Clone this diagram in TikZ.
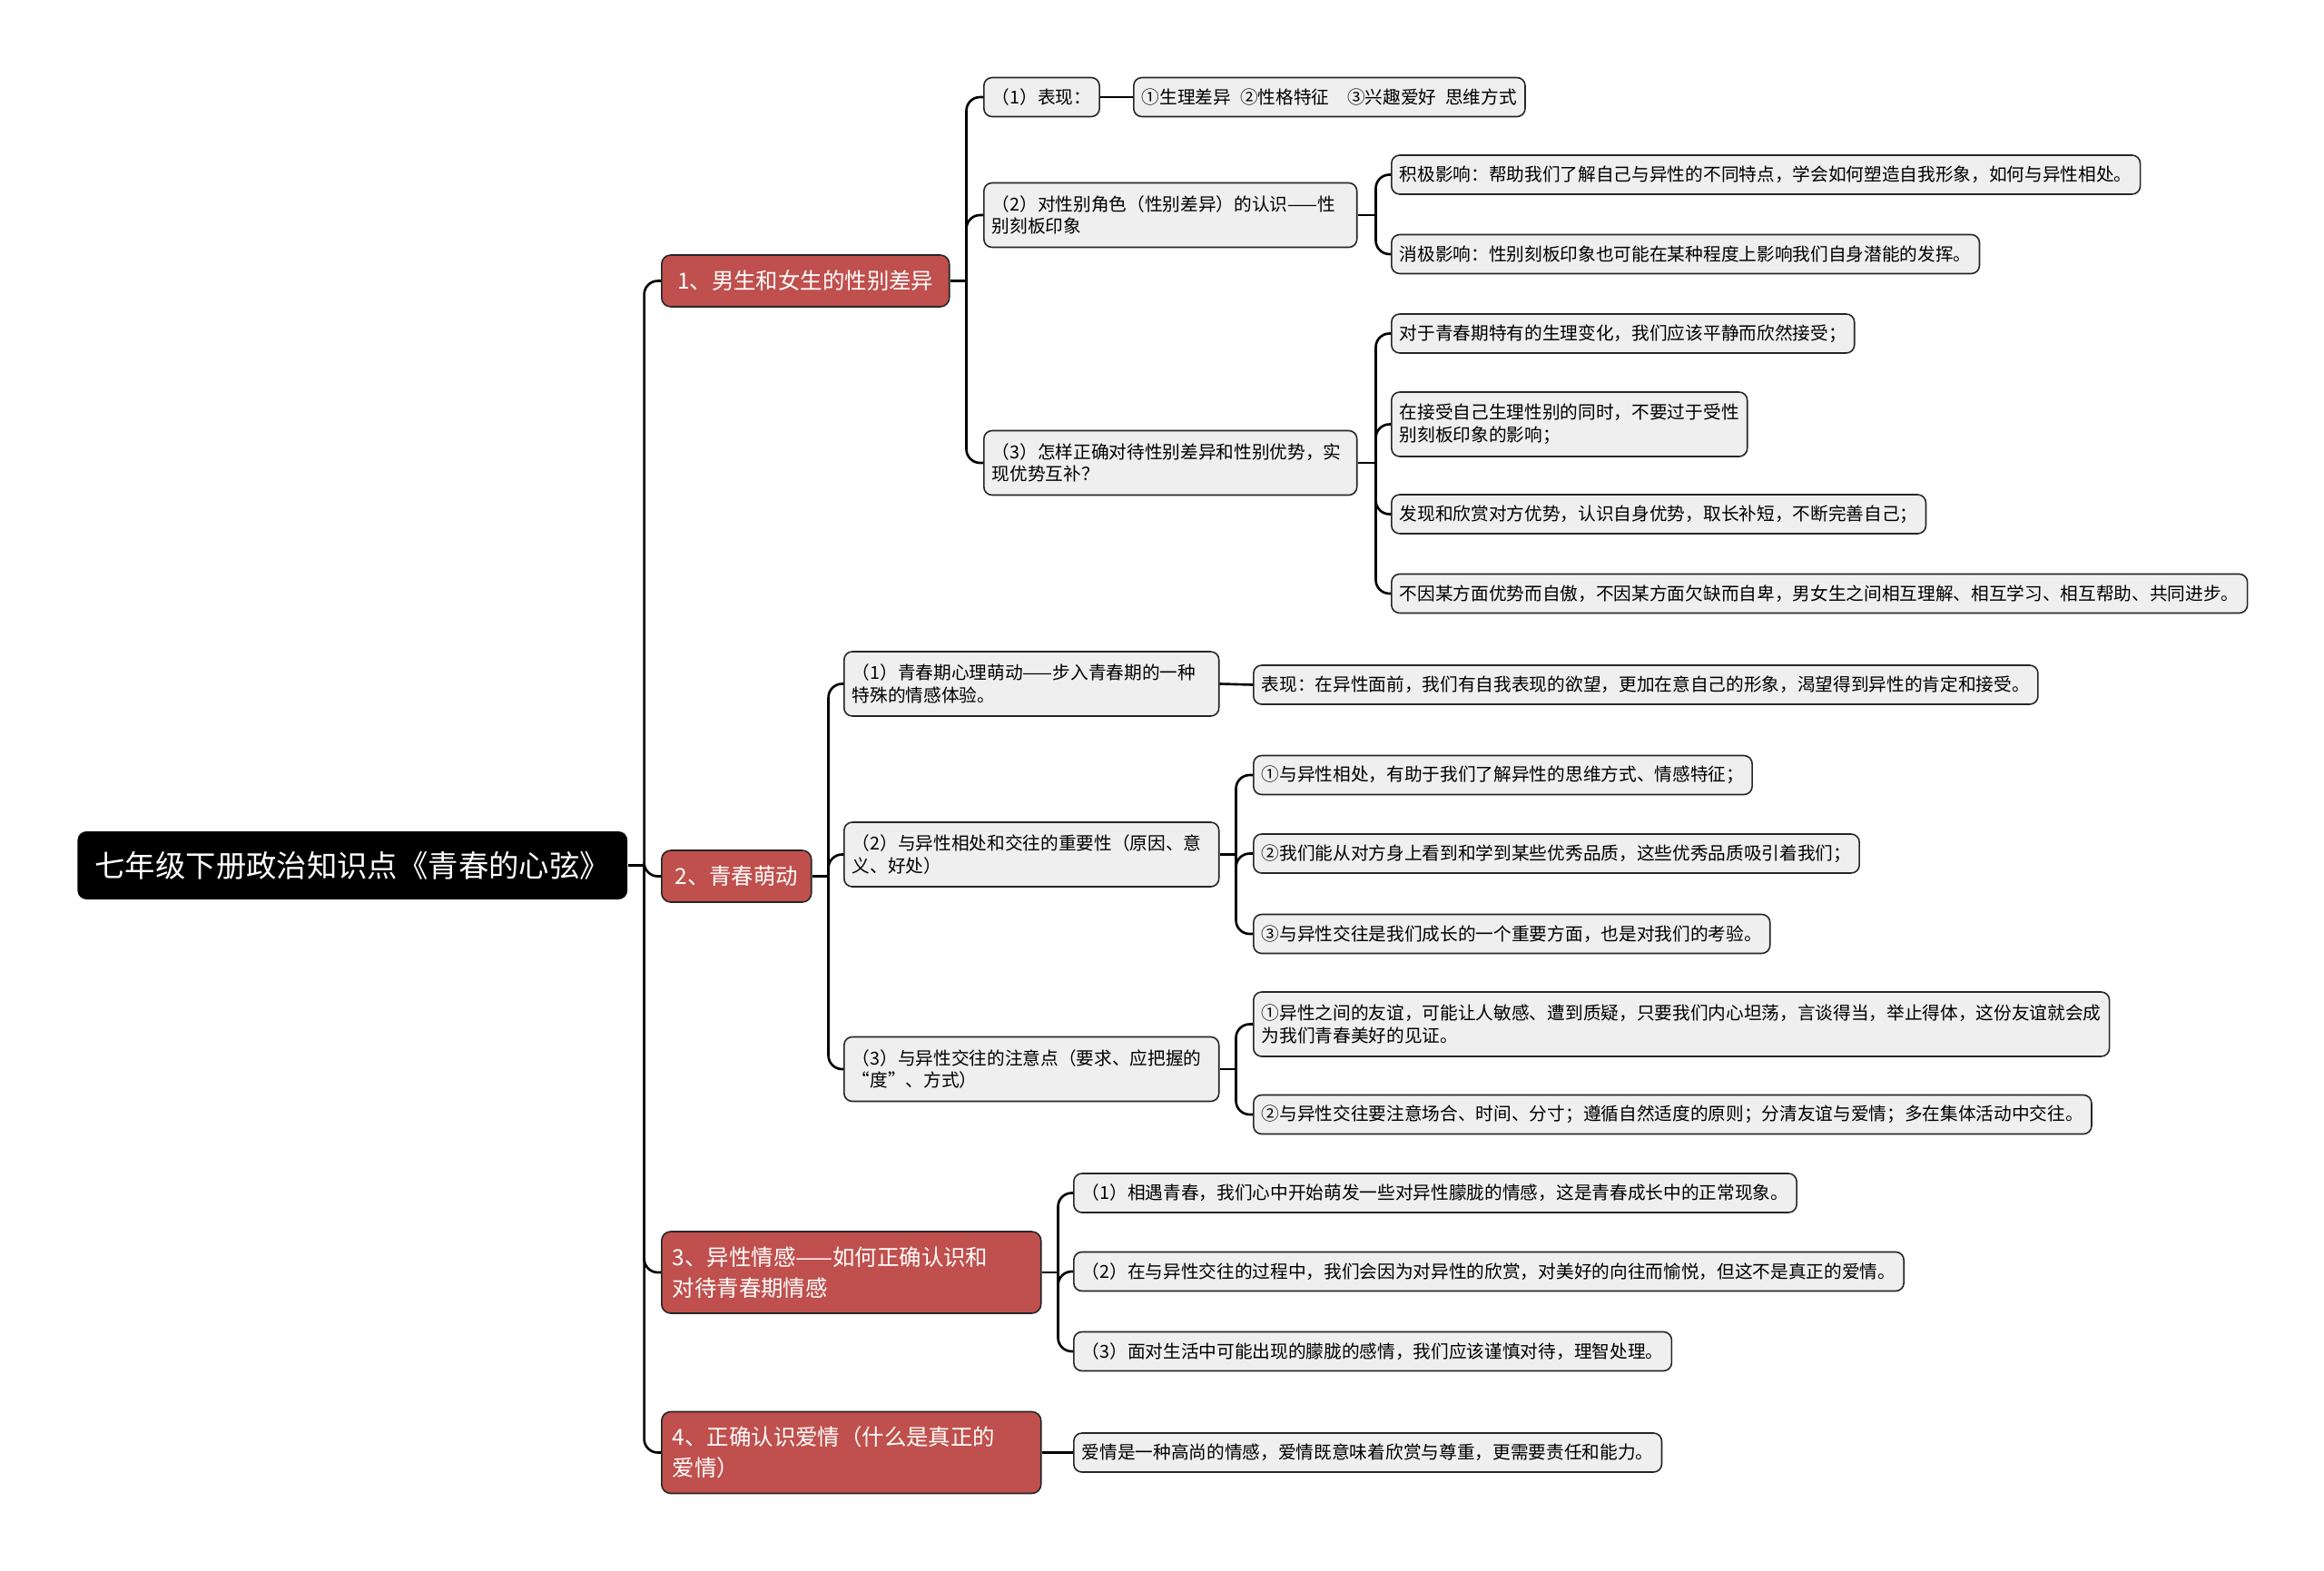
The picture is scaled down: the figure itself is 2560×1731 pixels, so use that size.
\documentclass[tikz,border=0pt]{standalone}
\usepackage{fontspec}
\setmainfont{Noto Sans CJK SC}
\definecolor{topicred}{HTML}{C0504D}
\definecolor{boxgray}{HTML}{EFEFEF}

\begin{document}
\begin{tikzpicture}[x=0.02cm,y=-0.02cm,
  link/.style={line width=1.5pt,rounded corners=0.3cm},
  rootbox/.style={fill=black,text=white,rounded corners=0.2cm,anchor=west,
    minimum width=12.12cm,minimum height=1.5cm,font=\fontsize{19}{24}\selectfont},
  topic/.style={draw=black!85,line width=0.9pt,fill=topicred,text=white,rounded corners=0.2cm,
    anchor=west,align=left,inner xsep=0.24cm,inner ysep=2pt,minimum height=1.14cm,
    font=\fontsize{13.9}{19.5}\selectfont},
  item/.style={draw=black!85,line width=0.9pt,fill=boxgray,rounded corners=0.18cm,
    anchor=west,align=left,inner xsep=0.18cm,inner ysep=2pt,minimum height=0.86cm,
    font=\fontsize{11.2}{14}\selectfont},
  tall/.style={minimum height=1.42cm}]
  \fill[white] (0,0) rectangle (2560,1731);
  \useasboundingbox (0,0) rectangle (2560,1731);

  \node[rootbox] (root) at (85,953.5) {七年级下册政治知识点《青春的心弦》};

  \node[topic,minimum width=6.34cm] (r1) at (728,309.5) {1、男生和女生的性别差异};
  \node[topic,minimum width=3.3cm] (r2) at (728,965.5) {2、青春萌动};
  \node[topic,text width=7.88cm,minimum height=1.8cm] (r3) at (728,1402) {3、异性情感——如何正确认识和\\对待青春期情感};
  \node[topic,text width=7.88cm,minimum height=1.8cm] (r4) at (728,1600.5) {4、正确认识爱情（什么是真正的\\爱情）};

  % 1
  \node[item] (a1) at (1083,107) {（1）表现：};
  \node[item] (a11) at (1248,107) {①生理差异\hspace{0.5em}②性格特征\hspace{1em}③兴趣爱好\hspace{0.5em}思维方式};
  \node[item,tall,text width=7.86cm] (a2) at (1083,237) {（2）对性别角色（性别差异）的认识——性\\别刻板印象};
  \node[item] (a21) at (1532,192.5) {积极影响：帮助我们了解自己与异性的不同特点，学会如何塑造自我形象，如何与异性相处。};
  \node[item] (a22) at (1532,280) {消极影响：性别刻板印象也可能在某种程度上影响我们自身潜能的发挥。};
  \node[item,tall,text width=7.86cm] (a3) at (1083,510) {（3）怎样正确对待性别差异和性别优势，实\\现优势互补？};
  \node[item] (a31) at (1532,367.5) {对于青春期特有的生理变化，我们应该平静而欣然接受；};
  \node[item,tall,text width=7.48cm] (a32) at (1532,467.5) {在接受自己生理性别的同时，不要过于受性\\别刻板印象的影响；};
  \node[item] (a33) at (1532,566.5) {发现和欣赏对方优势，认识自身优势，取长补短，不断完善自己；};
  \node[item] (a34) at (1532,654) {不因某方面优势而自傲，不因某方面欠缺而自卑，男女生之间相互理解、相互学习、相互帮助、共同进步。};

  % 2
  \node[item,tall,text width=7.9cm] (b1) at (929,753.5) {（1）青春期心理萌动——步入青春期的一种\\特殊的情感体验。};
  \node[item] (b11) at (1380,754.5) {表现：在异性面前，我们有自我表现的欲望，更加在意自己的形象，渴望得到异性的肯定和接受。};
  \node[item,tall,text width=7.9cm] (b2) at (929,941.5) {（2）与异性相处和交往的重要性（原因、意\\义、好处）};
  \node[item] (b21) at (1380,854) {①与异性相处，有助于我们了解异性的思维方式、情感特征；};
  \node[item] (b22) at (1380,940.5) {②我们能从对方身上看到和学到某些优秀品质，这些优秀品质吸引着我们；};
  \node[item] (b23) at (1380,1029) {③与异性交往是我们成长的一个重要方面，也是对我们的考验。};
  \node[item,tall,text width=7.9cm] (b3) at (929,1178) {（3）与异性交往的注意点（要求、应把握的\\“度”、方式）};
  \node[item,tall,text width=18.5cm] (b31) at (1380,1128.5) {①异性之间的友谊，可能让人敏感、遭到质疑，只要我们内心坦荡，言谈得当，举止得体，这份友谊就会成\\为我们青春美好的见证。};
  \node[item] (b32) at (1380,1228) {②与异性交往要注意场合、时间、分寸；遵循自然适度的原则；分清友谊与爱情；多在集体活动中交往。};

  % 3, 4
  \node[item] (c1) at (1182,1314.5) {（1）相遇青春，我们心中开始萌发一些对异性朦胧的情感，这是青春成长中的正常现象。};
  \node[item] (c2) at (1182,1401) {（2）在与异性交往的过程中，我们会因为对异性的欣赏，对美好的向往而愉悦，但这不是真正的爱情。};
  \node[item] (c3) at (1182,1489) {（3）面对生活中可能出现的朦胧的感情，我们应该谨慎对待，理智处理。};
  \node[item] (d1) at (1182,1600.5) {爱情是一种高尚的情感，爱情既意味着欣赏与尊重，更需要责任和能力。};

  % connectors
  \draw[link] (root.east) -- ++(18,0) coordinate (j0);
  \foreach \t in {r1,r2,r3,r4} \draw[link] (j0) |- (\t.west);
  \draw[link] (r1.east) -- ++(18,0) coordinate (j1);
  \foreach \t in {a1,a2,a3} \draw[link] (j1) |- (\t.west);
  \draw[link] (a1.east) -- (a11.west);
  \draw[link] (a2.east) -- ++(20,0) coordinate (j2);
  \foreach \t in {a21,a22} \draw[link] (j2) |- (\t.west);
  \draw[link] (a3.east) -- ++(20,0) coordinate (j3);
  \foreach \t in {a31,a32,a33,a34} \draw[link] (j3) |- (\t.west);
  \draw[link] (r2.east) -- ++(18,0) coordinate (j4);
  \foreach \t in {b1,b2,b3} \draw[link] (j4) |- (\t.west);
  \draw[link] (b1.east) -- (b11.west);
  \draw[link] (b2.east) -- ++(18,0) coordinate (j5);
  \foreach \t in {b21,b22,b23} \draw[link] (j5) |- (\t.west);
  \draw[link] (b3.east) -- ++(18,0) coordinate (j6);
  \foreach \t in {b31,b32} \draw[link] (j6) |- (\t.west);
  \draw[link] (r3.east) -- ++(18,0) coordinate (j7);
  \foreach \t in {c1,c2,c3} \draw[link] (j7) |- (\t.west);
  \draw[link] (r4.east) -- (d1.west);
\end{tikzpicture}
\end{document}
